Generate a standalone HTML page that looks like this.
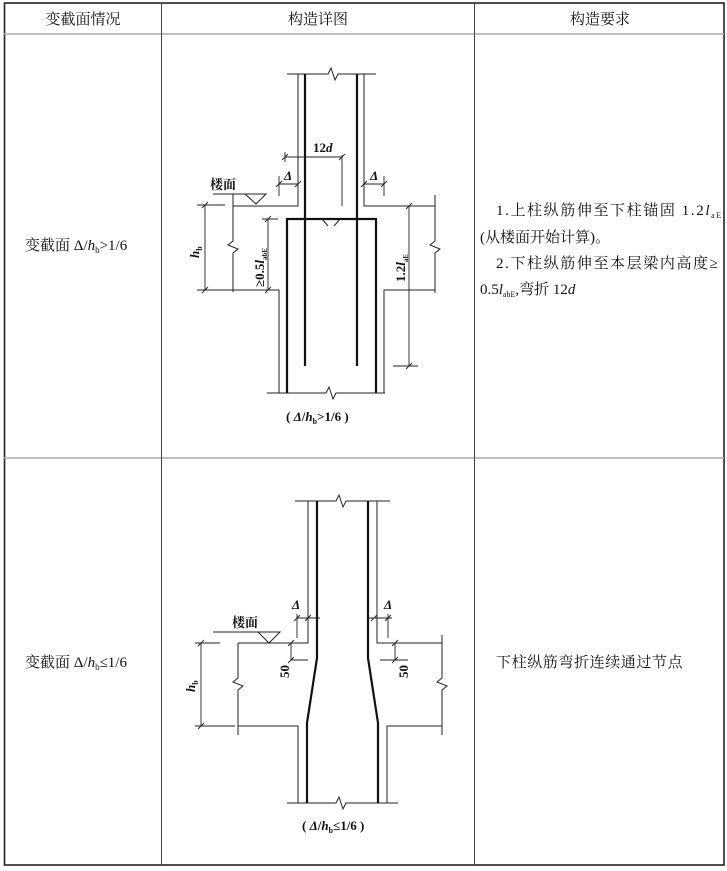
<!DOCTYPE html>
<html><head><meta charset="utf-8"><style>
html,body{margin:0;padding:0;background:#fff;}
svg{display:block;}
text{font-family:"Liberation Serif","Noto Serif CJK SC","Noto Sans CJK SC",serif;fill:#111;}
.t{stroke:#222;stroke-width:1;fill:none;}
.k{stroke:#111;stroke-width:2.2;fill:none;}
.d{stroke:#222;stroke-width:0.9;fill:none;}
</style></head><body>
<svg width="727" height="871" viewBox="0 0 727 871" xmlns="http://www.w3.org/2000/svg">
<rect x="4.5" y="3" width="719.5" height="862" fill="none" stroke="#222" stroke-width="1.6"/>
<line x1="4" y1="34" x2="724" y2="34" stroke="#aaa" stroke-width="1.5"/>
<line x1="4" y1="458" x2="724" y2="458" stroke="#aaa" stroke-width="1.5"/>
<line x1="161.5" y1="3" x2="161.5" y2="865" stroke="#444" stroke-width="1"/>
<line x1="474.5" y1="3" x2="474.5" y2="865" stroke="#444" stroke-width="1"/>
<text x="83" y="24" font-size="15" text-anchor="middle">变截面情况</text>
<text x="318" y="24" font-size="15" text-anchor="middle">构造详图</text>
<text x="600" y="24" font-size="15" text-anchor="middle">构造要求</text>

<text x="25" y="250" font-size="15">变截面 Δ/<tspan font-style="italic">h</tspan><tspan font-size="9" dy="3">b</tspan><tspan dy="-3">&gt;1/6</tspan></text>
<text x="25" y="667" font-size="15">变截面 Δ/<tspan font-style="italic">h</tspan><tspan font-size="9" dy="3">b</tspan><tspan dy="-3">≤1/6</tspan></text>

<text x="496" y="215" font-size="15" letter-spacing="1.6">1.上柱纵筋伸至下柱锚固 1.2<tspan font-style="italic">l</tspan><tspan font-size="8" dy="3">aE</tspan></text>
<text x="480" y="242" font-size="15">(从楼面开始计算)。</text>
<text x="496" y="268" font-size="15" letter-spacing="1.6">2.下柱纵筋伸至本层梁内高度≥</text>
<text x="480" y="294" font-size="15">0.5<tspan font-style="italic">l</tspan><tspan font-size="8" dy="3">abE</tspan><tspan dy="-3">,弯折 12<tspan font-style="italic">d</tspan></tspan></text>

<text x="496" y="667" font-size="15" letter-spacing="0.6">下柱纵筋弯折连续通过节点</text>

<g>
<path class="t" d="M287 74 H328 L331 68 L335 80 L338 74 H376"/>
<path class="t" d="M298 74 V206 H233"/>
<path class="t" d="M364 74 V206 H435"/>
<path class="t" d="M213 194 H266 L256 204 L245 194"/>
<path class="t" d="M233 194 V241 L228 245 L238 249 L233 253 V292"/>
<path class="t" d="M435 195 V241 L430 245 L440 249 L435 253 V293"/>
<path class="t" d="M233 290 H279 V393"/>
<path class="t" d="M435 290 H384 V393"/>
<path class="t" d="M267 393 H326 L329 387 L333 399 L336 393 H385"/>
<path class="k" d="M305 74 V366"/>
<path class="k" d="M357 74 V366"/>
<path class="k" d="M287 393 V219 H376 V393"/>
<path class="t" d="M322 219 L328 226 M340 219 L334 226"/>
<path class="d" d="M285 157 H342 M342 155 V206 M285 152 V162"/>
<path class="d" d="M282 160 L288 154 M339 160 L345 154"/>
<text x="313" y="152" font-size="13" font-weight="bold">12<tspan font-style="italic">d</tspan></text>
<path class="d" d="M279 184 H298 M279 176 V196 M384 184 H364 M384 176 V196"/>
<path class="d" d="M276 187 L282 181 M295 187 L301 181 M361 187 L367 181 M381 187 L387 181"/>
<text x="284" y="180" font-size="13" font-weight="bold" font-style="italic">Δ</text>
<text x="370" y="180" font-size="13" font-weight="bold" font-style="italic">Δ</text>
<text x="210" y="189" font-size="13" font-weight="bold">楼面</text>
<path class="d" d="M205 205 V290 M197 205 H225 M197 290 H233"/>
<path class="d" d="M202 208 L208 202 M202 293 L208 287"/>
<text transform="translate(199,258) rotate(-90)" font-size="13" font-weight="bold"><tspan font-style="italic">h</tspan><tspan font-size="8" dy="3">b</tspan></text>
<path class="d" d="M268 219 V290 M262 219 H278"/>
<path class="d" d="M265 222 L271 216 M265 293 L271 287"/>
<text transform="translate(264,287) rotate(-90)" font-size="13" font-weight="bold">≥0.5<tspan font-style="italic">l</tspan><tspan font-size="7" dy="3">abE</tspan></text>
<path class="d" d="M409 206 V366 M393 366 H418"/>
<path class="d" d="M406 209 L412 203 M406 369 L412 363"/>
<text transform="translate(405,282) rotate(-90)" font-size="13" font-weight="bold">1.2<tspan font-style="italic">l</tspan><tspan font-size="7" dy="3">aE</tspan></text>
<text x="286" y="421" font-size="13" font-weight="bold">( <tspan font-style="italic">Δ</tspan>/<tspan font-style="italic">h</tspan><tspan font-size="8" dy="3">b</tspan><tspan dy="-3">&gt;1/6 )</tspan></text>
</g>

<g>
<path class="t" d="M295 501 H336 L339 495 L343 507 L346 501 H390"/>
<path class="t" d="M308 501 V643 H238"/>
<path class="t" d="M377 501 V643 H442"/>
<path class="t" d="M213 632 H280 L269 643 L258 632"/>
<path class="t" d="M238 643 V678 L233 682 L243 686 L238 690 V735"/>
<path class="t" d="M442 635 V678 L437 682 L447 686 L442 690 V735"/>
<path class="t" d="M238 726 H298 V803"/>
<path class="t" d="M442 726 H387 V803"/>
<path class="t" d="M287 803 H336 L339 797 L343 809 L346 803 H398"/>
<path class="k" d="M317 501 V658 L307 723 V803"/>
<path class="k" d="M368 501 V658 L378 723 V803"/>
<path class="d" d="M297 618 H320 M297 614 V638 M368 618 H392 M388 614 V638"/>
<path class="d" d="M294 621 L300 615 M305 621 L311 615 M371 621 L377 615 M385 621 L391 615"/>
<text x="292" y="609" font-size="13" font-weight="bold" font-style="italic">Δ</text>
<text x="384" y="609" font-size="13" font-weight="bold" font-style="italic">Δ</text>
<text x="232" y="627" font-size="13" font-weight="bold">楼面</text>
<path class="d" d="M291 643 V660 M291 660 H308 M395 643 V660 M380 660 H408"/>
<path class="d" d="M288 646 L294 640 M288 663 L294 657 M392 646 L398 640 M392 663 L398 657"/>
<text transform="translate(289,678) rotate(-90)" font-size="13" font-weight="bold">50</text>
<text transform="translate(408,678) rotate(-90)" font-size="13" font-weight="bold">50</text>
<path class="d" d="M201 643 V726 M195 643 H220 M195 726 H235"/>
<path class="d" d="M198 646 L204 640 M198 729 L204 723"/>
<text transform="translate(195,692) rotate(-90)" font-size="13" font-weight="bold"><tspan font-style="italic">h</tspan><tspan font-size="8" dy="3">b</tspan></text>
<text x="302" y="830" font-size="13" font-weight="bold">( <tspan font-style="italic">Δ</tspan>/<tspan font-style="italic">h</tspan><tspan font-size="8" dy="3">b</tspan><tspan dy="-3">≤1/6 )</tspan></text>
</g>
</svg>
</body></html>
